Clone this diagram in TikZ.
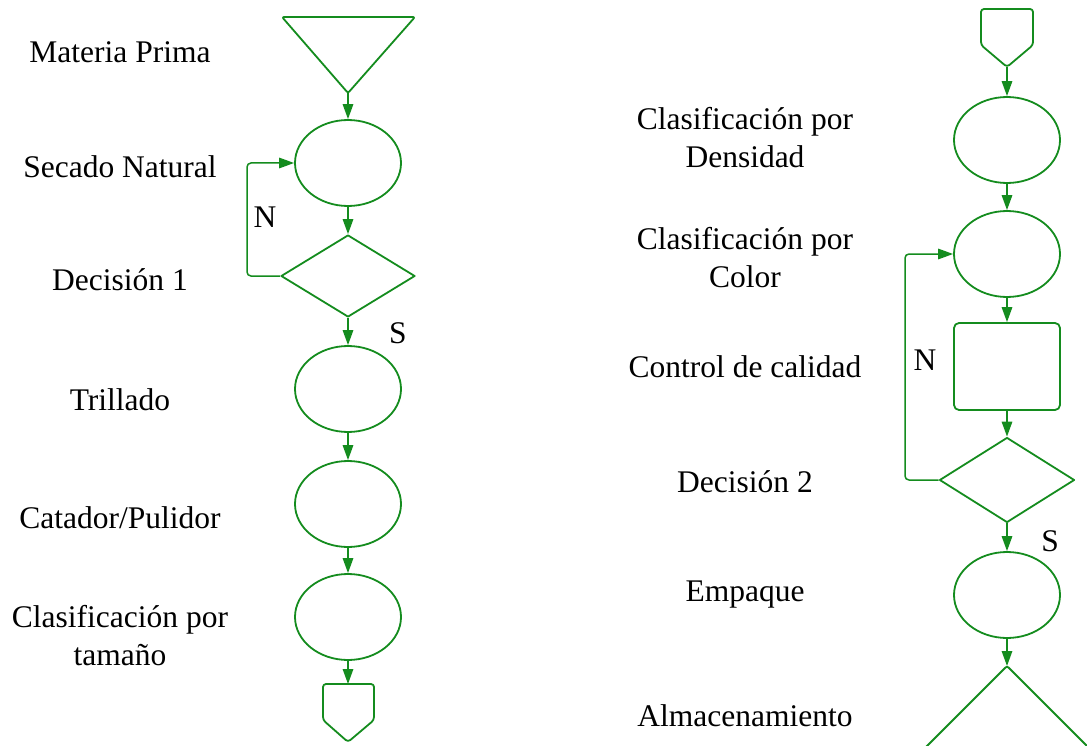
\documentclass[tikz,border=0pt]{standalone}
\usepackage{fontspec}
\setmainfont{Liberation Serif}
\usetikzlibrary{shapes.geometric,arrows.meta}
\definecolor{fg}{RGB}{20,140,30}
\tikzset{
  shp/.style={draw=fg,line width=1.8pt,line join=round},
  ell/.style={shp,ellipse,minimum width=106pt,minimum height=86pt,inner sep=0pt},
  dia/.style={shp,diamond,inner sep=0pt},
  box/.style={shp,rectangle,rounded corners=5pt,minimum width=106pt,minimum height=87pt,inner sep=0pt},
  arr/.style={draw=fg,line width=1.5pt,-{Triangle[length=15pt,width=10.5pt]}},
  lbl/.style={font=\fontsize{31.5}{38}\selectfont,align=center,inner sep=0pt},
  loop/.style={arr,rounded corners=4pt}
}
\begin{document}
\begin{tikzpicture}[x=1pt,y=-1pt]
\clip (0,0) rectangle (1087,746);
\fill[white] (0,0) rectangle (1087,746);
% ---------- left column ----------
\draw[shp,rounded corners=2pt] (282,17) -- (415,17) -- (348,93) -- cycle;
\coordinate (t1) at (348,93);
\node[ell] (e1) at (348,163) {};
\node[dia,minimum width=134pt,minimum height=82pt] (d1) at (348,276) {};
\node[ell] (e2) at (348,389) {};
\node[ell] (e3) at (348,504) {};
\node[ell] (e4) at (348,617) {};
\draw[shp,rounded corners=3pt] (323,720) -- (323,684) -- (374,684) -- (374,720) -- (348,742) -- cycle;
\coordinate (c1) at (348,684);
\draw[arr] (t1) -- (e1.north);
\draw[arr] (e1.south) -- (d1.north);
\draw[arr] (d1.south) -- (e2.north);
\draw[arr] (e2.south) -- (e3.north);
\draw[arr] (e3.south) -- (e4.north);
\draw[arr] (e4.south) -- (c1);
\draw[loop] (d1.west) -- (247,276) -- (247,163) -- (e1.west);
\node[lbl] (n1) at (265,217) {N};
\node[lbl] (s1) at (398,333) {S};
\node[lbl] (l1) at (120,52) {Materia Prima};
\node[lbl] (l2) at (120,167) {Secado Natural};
\node[lbl] (l3) at (120,280) {Decisión 1};
\node[lbl] (l4) at (120,400) {Trillado};
\node[lbl] (l5) at (120,518) {Catador/Pulidor};
\node[lbl] (l6) at (120,636) {Clasificación por\\tamaño};
% ---------- right column ----------
\draw[shp,rounded corners=3pt] (981,45) -- (981,9) -- (1033,9) -- (1033,45) -- (1007,67) -- cycle;
\coordinate (c2) at (1007,67);
\node[ell] (r1) at (1007,140) {};
\node[ell] (r2) at (1007,254) {};
\node[box] (b1) at (1007,366.5) {};
\node[dia,minimum width=135pt,minimum height=85pt] (d2) at (1007,480) {};
\node[ell] (r3) at (1007,595) {};
\draw[shp,rounded corners=2pt] (897,776) -- (1007,666) -- (1117,776);
\coordinate (t2) at (1007,666);
\draw[arr] (c2) -- (r1.north);
\draw[arr] (r1.south) -- (r2.north);
\draw[arr] (r2.south) -- (b1.north);
\draw[arr] (b1.south) -- (d2.north);
\draw[arr] (d2.south) -- (r3.north);
\draw[arr] (r3.south) -- (t2);
\draw[loop] (d2.west) -- (905,480) -- (905,254) -- (r2.west);
\node[lbl] (n2) at (925,360) {N};
\node[lbl] (s2) at (1050,541) {S};
\node[lbl] (m1) at (745,138) {Clasificación por\\Densidad};
\node[lbl] (m2) at (745,258) {Clasificación por\\Color};
\node[lbl] (m3) at (745,367) {Control de calidad};
\node[lbl] (m4) at (745,482) {Decisión 2};
\node[lbl] (m5) at (745,595) {Empaque};
\node[lbl] (m6) at (745,716) {Almacenamiento};
\end{tikzpicture}
\end{document}
